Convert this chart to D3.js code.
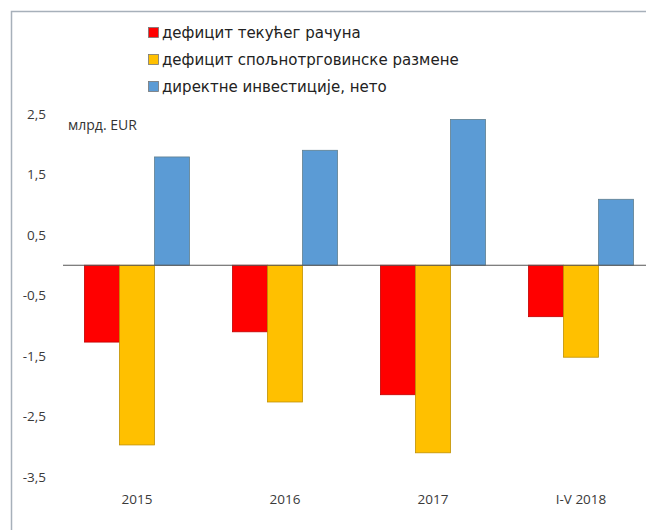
<!DOCTYPE html>
<html>
<head>
<meta charset="utf-8">
<script src="https://cdn.jsdelivr.net/npm/d3@7"></script>
<style>
  body { margin: 0; background: #fff; }
  text { font-family: "Open Sans", "Noto Sans", sans-serif; }
</style>
</head>
<body>
<div class="chart"></div>
<script>
// data
const categories = ["2015", "2016", "2017", "I-V 2018"];
const seriesNames = [
   "дефицит текућег рачуна",
   "дефицит спољнотрговинске размене",
   "директне инвестиције, нето"
];
const currentAccount = [-1.27, -1.10, -2.14, -0.85];
const tradeDeficit = [-2.97, -2.26, -3.10, -1.52];
const fdiNet = [1.79, 1.90, 2.41, 1.09];
const yTicks = [2.5, 1.5, 0.5, -0.5, -1.5, -2.5, -3.5];
const unitLabel = "млрд. EUR";

const colors = ["#ff0000", "#ffc000", "#5b9bd5"];
const strokes = ["#c00000", "#c09000", "#5f7f8f"];

const width = 646;
const height = 530;

const svg = d3.select(".chart")
   .append("svg")
   .attr("width", width)
   .attr("height", height);

// frame
svg.append("rect")
   .attr("x", 11.5)
   .attr("y", 11.5)
   .attr("width", 700)
   .attr("height", 600)
   .attr("fill", "#fff")
   .attr("stroke", "#a7b0ba")
   .attr("stroke-width", 1.5);

const y = d3.scaleLinear().domain([-3.5, 2.5]).range([477, 114]);

const x = d3.scaleBand()
   .domain(categories)
   .range([63, 655])
   .paddingInner(0.29)
   .paddingOuter(0.145);

const xSub = d3.scaleBand()
   .domain([0, 1, 2])
   .range([0, x.bandwidth()]);

// y axis labels (no line)
const yAxis = d3.axisLeft(y)
   .tickValues(yTicks)
   .tickFormat((d) => d3.format(".1f")(d).replace(".", ",").replace("−", "-"))
   .tickSize(0)
   .tickPadding(0);

const gy = svg.append("g")
   .attr("transform", "translate(46,0)")
   .call(yAxis);
gy.select(".domain").remove();
gy.selectAll("text")
   .attr("font-size", 13.5)
   .attr("fill", "#3a3a3a")
   .style("font-family", "'Open Sans', sans-serif");

svg.append("text")
   .attr("x", 68)
   .attr("y", 130)
   .attr("font-size", 14)
   .attr("fill", "#333")
   .text(unitLabel);

// bars
const rows = categories.map((c, i) => ({
   cat: c,
   vals: [currentAccount[i], tradeDeficit[i], fdiNet[i]]
}));

const groups = svg.selectAll(".grp")
   .data(rows)
   .enter()
   .append("g")
   .attr("class", "grp")
   .attr("transform", (d) => `translate(${x(d.cat)},0)`);

groups.selectAll("rect")
   .data((d) => d.vals.map((v, k) => ({ v, k })))
   .enter()
   .append("rect")
   .attr("x", (d) => xSub(d.k))
   .attr("width", xSub.bandwidth())
   .attr("y", (d) => y(Math.max(0, d.v)))
   .attr("height", (d) => Math.abs(y(d.v) - y(0)))
   .attr("fill", (d) => colors[d.k])
   .attr("stroke", (d) => strokes[d.k])
   .attr("stroke-width", 0.8);

// zero line
svg.append("line")
   .attr("x1", 63)
   .attr("x2", 655)
   .attr("y1", y(0))
   .attr("y2", y(0))
   .attr("stroke", "#555")
   .attr("stroke-width", 1);

// x axis labels
const xAxis = d3.axisBottom(x).tickSize(0).tickPadding(0);
const gx = svg.append("g")
   .attr("transform", "translate(0,494)")
   .call(xAxis);
gx.select(".domain").remove();
gx.selectAll("text")
   .attr("font-size", 13.5)
   .attr("fill", "#3a3a3a")
   .style("font-family", "'Open Sans', sans-serif");

// legend
const legend = svg.append("g").attr("transform", "translate(148,25)");
seriesNames.forEach((name, i) => {
   const g = legend.append("g").attr("transform", `translate(0,${i * 27})`);
   g.append("rect")
      .attr("x", 0.5)
      .attr("y", 2.5)
      .attr("width", 10)
      .attr("height", 10)
      .attr("fill", colors[i])
      .attr("stroke", "#777")
      .attr("stroke-width", 0.8);
   g.append("text")
      .attr("x", 14)
      .attr("y", 12.5)
      .attr("font-size", 15)
      .attr("fill", "#222")
      .style("font-family", "'DejaVu Sans', sans-serif")
      .text(name);
});
</script>
</body>
</html>
